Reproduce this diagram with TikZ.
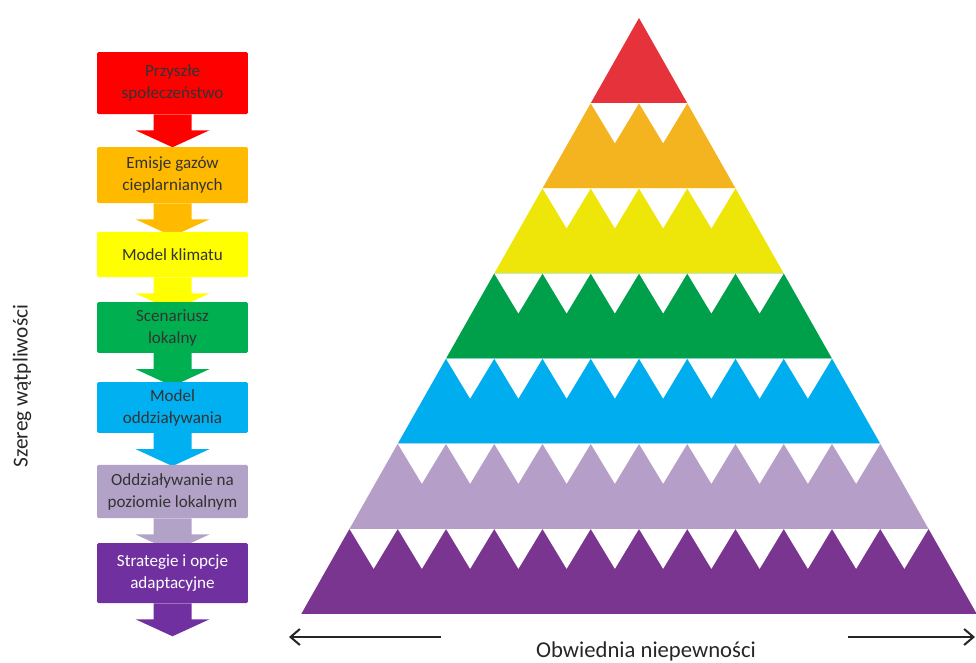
\documentclass[tikz,border=0pt]{standalone}
\usepackage{fontspec}
\setmainfont{Carlito}
\usetikzlibrary{arrows.meta}

\definecolor{boxRed}{HTML}{FF0000}
\definecolor{boxOrange}{HTML}{FFBA00}
\definecolor{boxYellow}{HTML}{FFFF00}
\definecolor{boxGreen}{HTML}{00B050}
\definecolor{boxBlue}{HTML}{00B0F0}
\definecolor{boxLilac}{HTML}{B3A2C7}
\definecolor{boxPurple}{HTML}{7030A0}
\definecolor{pyrRed}{HTML}{E5323B}
\definecolor{pyrOrange}{HTML}{F4B41F}
\definecolor{pyrYellow}{HTML}{EDE608}
\definecolor{pyrGreen}{HTML}{00A04A}
\definecolor{pyrBlue}{HTML}{00ADEE}
\definecolor{pyrLilac}{HTML}{B59FC8}
\definecolor{pyrPurple}{HTML}{7A3590}

\tikzset{
  stage/.style={minimum width=113pt, inner sep=0pt, align=center,
    rounded corners=1pt, font=\fontsize{12.8}{16.5}\selectfont, text=black!80},
  envarrow/.style={draw=black!85, line width=1.5pt, -{Straight Barb[length=7pt,width=12pt]}},
}

% block arrow hanging below a stage box
\newcommand{\stagearrow}[2]{%
  \fill[#2] (#1.south) ++(-19,0) -- ++(0,16) -- ++(-18,0) -- ++(37,17)
    -- ++(37,-17) -- ++(-18,0) -- ++(0,-16) -- cycle;}

\begin{document}
\begin{tikzpicture}[x=0.75pt, y=-0.75pt]
    \useasboundingbox (0,0) rectangle (976,662);

    % Pyramid bands
    \foreach \k/\col in {0/pyrRed,1/pyrOrange,2/pyrYellow,3/pyrGreen,4/pyrBlue,5/pyrLilac,6/pyrPurple}{
        \pgfmathsetmacro\ytop{18+\k*85.14}
        \pgfmathsetmacro\ybot{18+(\k+1)*85.14}
        \pgfmathsetmacro\xtl{639-\k*48.25}
        \pgfmathsetmacro\xtr{639+\k*48.25}
        \pgfmathsetmacro\xbl{639-(\k+1)*48.25}
        \pgfmathsetmacro\xbr{639+(\k+1)*48.25}
        \fill[\col] (\xtl,\ytop) -- (\xtr,\ytop) -- (\xbr,\ybot) -- (\xbl,\ybot) -- cycle;
        % white notches along the top edge
        \ifnum\k>0
            \pgfmathtruncatemacro\n{2*\k-1}
            \foreach \j in {0,...,\n}{
                \pgfmathsetmacro\xa{\xtl+\j*48.25}
                \fill[white] (\xa,\ytop) -- ++(48.25,0) -- ++(-24.125,40) -- cycle;
            }
        \fi
    }

    % Stages with arrows
    \node[stage, fill=boxRed, minimum height=46.5pt] (future) at (172.5,83) {Przyszłe\\społeczeństwo};
    \stagearrow{future}{boxRed}
    \node[stage, fill=boxOrange, minimum height=42pt] (emission) at (172.5,175) {Emisje gazów\\cieplarnianych};
    \stagearrow{emission}{boxOrange}
    \node[stage, fill=boxYellow, minimum height=34pt] (climate) at (172.5,254.5) {Model klimatu};
    \stagearrow{climate}{boxYellow}
    \node[stage, fill=boxGreen, minimum height=38pt] (scenario) at (172.5,327.5) {Scenariusz\\lokalny};
    \stagearrow{scenario}{boxGreen}
    \node[stage, fill=boxBlue, minimum height=38pt] (impact) at (172.5,407.5) {Model\\oddziaływania};
    \stagearrow{impact}{boxBlue}
    \node[stage, fill=boxLilac, minimum height=40pt] (local) at (172.5,491.5) {Oddziaływanie na\\poziomie lokalnym};
    \stagearrow{local}{boxLilac}
    \node[stage, fill=boxPurple, minimum height=45pt, text=white] (adapt) at (172.5,573) {Strategie i opcje\\adaptacyjne};
    \stagearrow{adapt}{boxPurple}

    % Axis labels
    \node[rotate=90, font=\fontsize{16}{16}\selectfont, text=black!85] (cascade) at (22,386) {Szereg wątpliwości};
    \node[font=\fontsize{17}{17}\selectfont, text=black!85] (envelope) at (646,651) {Obwiednia niepewności};

    \coordinate (envLstart) at (441,637);
    \coordinate (envLend) at (289,637);
    \coordinate (envRstart) at (848,637);
    \coordinate (envRend) at (975,637);
    \draw[envarrow] (envLstart) -- (envLend);
    \draw[envarrow] (envRstart) -- (envRend);
\end{tikzpicture}
\end{document}
